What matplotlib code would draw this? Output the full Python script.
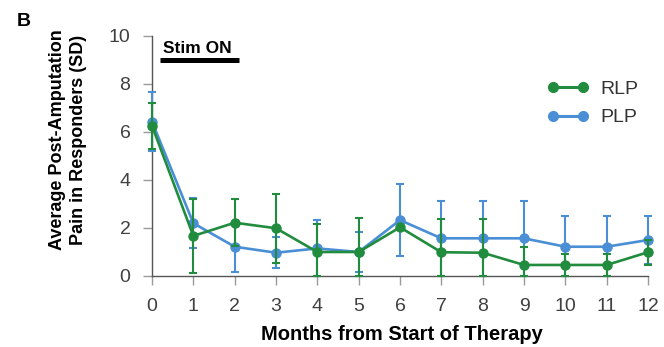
import numpy as np
import matplotlib
matplotlib.use("Agg")
import matplotlib.pyplot as plt
from matplotlib.lines import Line2D

plt.rcParams['font.family'] = ['Liberation Sans', 'DejaVu Sans']

months = list(range(13))
rlp = [6.26, 1.67, 2.22, 1.99, 1.00, 1.00, 2.03, 0.99, 0.97, 0.46, 0.46, 0.46, 0.99]
rlp_sd = [0.96, 1.55, 0.98, 1.43, 1.17, 1.40, 0.00, 1.40, 1.40, 0.73, 0.46, 0.46, 0.53]
plp = [6.43, 2.20, 1.22, 0.97, 1.15, 1.00, 2.33, 1.57, 1.57, 1.57, 1.22, 1.22, 1.50]
plp_sd = [1.22, 1.05, 1.04, 0.65, 1.18, 0.85, 1.50, 1.55, 1.55, 1.55, 1.28, 1.28, 1.00]
yticks = [0, 2, 4, 6, 8, 10]
series_names = ['RLP', 'PLP']

green = '#218c3e'
blue = '#4a8fd6'

fig = plt.figure(figsize=(6.64, 3.47), dpi=100)
ax = fig.add_axes([152/664, 1-276/347, 496/664, 240/347])

def draw(y, sd, color, z):
    y = np.array(y); sd = np.array(sd)
    lower = np.minimum(sd, y)
    ax.errorbar(months, y, yerr=[lower, sd], color=color, lw=1.9, marker='o',
                markersize=6.5, elinewidth=1.5, capsize=3.2, capthick=1.5,
                clip_on=False, zorder=z)

draw(plp, plp_sd, blue, 3)
draw(rlp, rlp_sd, green, 4)

ax.set_xlim(0, 12)
ax.set_ylim(0, 10)
ax.set_xticks(months)
ax.set_yticks(yticks)
for s in ['top', 'right']:
    ax.spines[s].set_visible(False)
for s in ['left', 'bottom']:
    ax.spines[s].set_color('#555555')
    ax.spines[s].set_linewidth(1.0)
ax.tick_params(axis='both', direction='out', length=6.5, width=1.0, color='#9a9a9a',
               labelsize=14, labelcolor='#404040')
ax.tick_params(axis='x', pad=9)
ax.tick_params(axis='y', pad=9)

ax.set_xlabel('Months from Start of Therapy', fontsize=14.5, fontweight='bold', va='center')
ax.xaxis.set_label_coords(0.504, (276-335)/240)
ax.set_ylabel('Average Post-Amputation\nPain in Responders (SD)', fontsize=13,
              fontweight='bold', va='center', linespacing=1.25)
ax.yaxis.set_label_coords((68-152)/496, (276-140)/240)

# Stim ON bar
ax.plot([0.2, 2.1], [9.0, 9.0], color='black', lw=3.6, solid_capstyle='butt', clip_on=False)
ax.text(0.27, 9.28, 'Stim ON', fontsize=12.5, fontweight='bold', va='baseline', ha='left')

handles = [Line2D([], [], color=green, lw=2.2, marker='o', markersize=7),
           Line2D([], [], color=blue, lw=2.2, marker='o', markersize=7)]
leg = ax.legend(handles, series_names,
                loc='center left', bbox_to_anchor=(547/664, 1-103.5/347),
                bbox_transform=fig.transFigure, frameon=False, fontsize=14,
                numpoints=2, handlelength=2.15, handletextpad=0.58,
                borderpad=0, borderaxespad=0, labelspacing=0.55)
for t in leg.get_texts():
    t.set_color('#333333')

fig.text(17/664, 1-22/347, 'B', fontsize=14, fontweight='bold', va='center', ha='left')

fig.savefig('out.png', dpi=100)
